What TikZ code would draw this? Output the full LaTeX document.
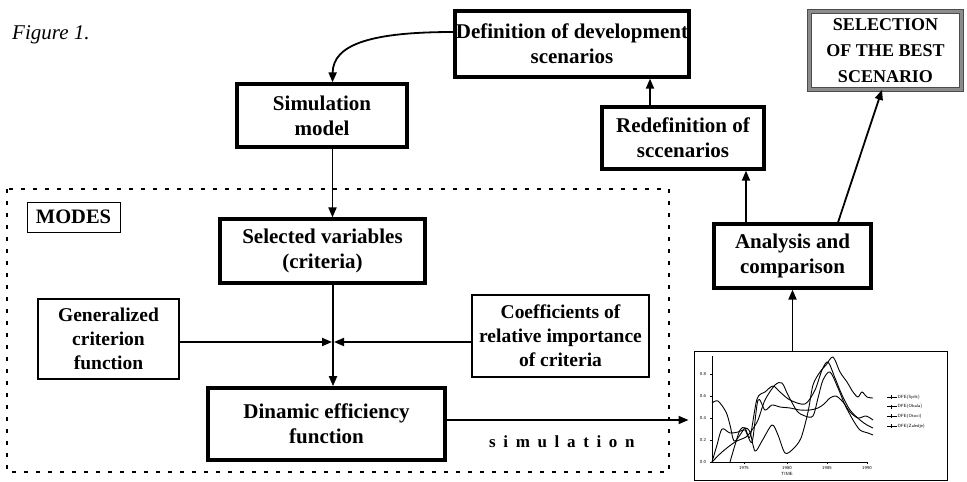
\documentclass[tikz,border=0pt]{standalone}
\usepackage{fontspec}
\setmainfont{Liberation Serif}
\usetikzlibrary{arrows.meta}
\begin{document}
\begin{tikzpicture}[x=1pt,y=-1pt,
  mainbox/.style={draw, line width=3.2pt, align=center, inner sep=0pt,
    font=\bfseries\fontsize{21}{25}\selectfont},
  smallbox/.style={draw, line width=1.6pt, align=center, inner sep=0pt,
    font=\bfseries\fontsize{19.5}{24}\selectfont},
  bestbox/.style={draw=black!70, line width=0.7pt, double=black!45, double distance=2.8pt,
    align=center, inner sep=0pt, font=\bfseries\fontsize{18}{26}\selectfont},
  conn/.style={line width=1.8pt, -{Triangle[length=10pt,width=8pt]}},
  wire/.style={line width=1.8pt},
  tiny/.style={font=\sffamily\fontsize{4.5}{5}\selectfont, inner sep=0.5pt},
  curve/.style={line width=0.9pt},
]
\useasboundingbox (0,0) rectangle (967,482);

% caption
\node[anchor=west, inner sep=0pt, font=\itshape\fontsize{21}{25}\selectfont] (fig) at (12,35) {Figure 1.};

% dashed frame of MODES
\draw[line width=2.8pt, dash pattern=on 4pt off 8pt] (7,189) rectangle (669,472);
\node[draw, line width=0.9pt, inner sep=0pt, minimum width=93pt, minimum height=30pt,
  font=\bfseries\fontsize{20.5}{24}\selectfont] (modes) at (73.5,217) {MODES};

% boxes
\node[mainbox, minimum width=234pt, minimum height=66pt] (def) at (572,44) {Definition of development\\scenarios};
\node[mainbox, minimum width=170pt, minimum height=63pt] (sim) at (322,115.5) {Simulation\\model};
\node[mainbox, minimum width=162pt, minimum height=62pt] (redef) at (683,138) {Redefinition of\\sccenarios};
\node[bestbox, minimum width=152pt, minimum height=78pt] (best) at (885.5,50.5) {SELECTION\\OF THE BEST\\SCENARIO};
\node[mainbox, minimum width=205pt, minimum height=64pt] (selvar) at (322.5,251) {Selected variables\\(criteria)};
\node[smallbox, minimum width=141pt, minimum height=80pt] (gen) at (108.5,339) {Generalized\\criterion\\function};
\node[smallbox, minimum width=177pt, minimum height=82pt] (coef) at (560.5,336) {Coefficients of\\relative importance\\of criteria};
\node[mainbox, line width=3.6pt, minimum width=237pt, minimum height=72pt] (dyn) at (326.5,424) {Dinamic efficiency\\function};
\node[mainbox, minimum width=157pt, minimum height=64pt] (anal) at (792.5,256) {Analysis and\\comparison};
\node[anchor=west, inner sep=0pt, font=\bfseries\fontsize{17}{20}\selectfont\addfontfeature{LetterSpace=45}] (simtxt) at (489,442) {simulation};

% chart
\node[draw, line width=1pt, minimum width=253pt, minimum height=129pt, inner sep=0pt] (chart) at (820.5,415.5) {};
\draw[line width=0.8pt] (712,356) -- (712,462) -- (867,462);
\foreach \v/\l in {0/0.0,1/0.2,2/0.4,3/0.6,4/0.8}{
  \draw[line width=0.5pt] (710,462-22*\v) -- (712,462-22*\v);
  \node[tiny] at (703,462-22*\v) {\l};
}
\foreach \yr/\xx in {1975/744,1980/787,1985/827,1990/867}{
  \draw[line width=0.5pt] (\xx,462) -- (\xx,464);
  \node[tiny] at (\xx,468) {\yr};
}
\node[tiny] at (787,474) {TIME};
\draw[curve] plot[smooth] coordinates {(712,403) (718,401) (726,412) (730,425) (734,441) (740,435) (745,428) (750,432) (755,451) (762,441) (772,425) (778,435) (785,453) (793,449) (801,438) (808,412) (813,385) (820,372) (826,365) (833,357) (840,372) (847,382) (853,392) (858,397) (862,392) (867,397) (873,398)};
\draw[curve] plot[smooth] coordinates {(712,462) (717,445) (722,429) (730,433) (738,432) (745,430) (750,437) (757,399) (765,392) (773,386) (780,392) (790,400) (805,404) (815,390) (822,370) (828,362) (835,378) (842,395) (850,410) (860,420) (867,425) (873,428)};
\draw[curve] plot[smooth] coordinates {(712,462) (722,452) (735,442) (746,437) (752,430) (758,420) (765,400) (775,385) (782,383) (788,395) (797,411) (805,416) (813,416) (818,398) (823,380) (830,372) (838,388) (845,405) (853,420) (860,430) (868,433) (873,435)};
\draw[curve] plot[smooth] coordinates {(730,462) (735,445) (740,430) (745,428) (752,442) (758,400) (765,410) (772,405) (780,407) (790,408) (800,410) (810,410) (818,408) (824,404) (830,398) (836,396) (843,402) (850,412) (858,418) (866,416) (873,420)};
\foreach \i/\name in {0/DFE(Split),1/DFE(Obala),2/DFE(Otoci),3/DFE(Zaledje)}{
  \draw[line width=0.5pt] (887,397+9.7*\i) -- (897,397+9.7*\i);
  \draw[line width=0.5pt] (891,395+9.7*\i) -- (891,399+9.7*\i);
  \node[tiny, anchor=west] at (897,397+9.7*\i) {\name};
}

% connectors
\coordinate (jn) at (333,342);
\draw[conn] ([yshift=12pt]def.west) .. controls (372,32) and (333,44) .. ([xshift=10.5pt]sim.north);
\draw[conn] ([xshift=10.5pt]sim.south) -- ([xshift=10.5pt]sim.south |- selvar.north);
\draw[wire] (selvar.south -| jn) -- (jn);
\draw[conn] (jn) -- (jn |- dyn.north);
\draw[conn] (gen.east |- jn) -- ([xshift=-1pt]jn);
\draw[conn] (coef.west |- jn) -- ([xshift=1pt]jn);
\draw[conn, shorten >=5pt] ([yshift=4pt]dyn.east) -- ([yshift=4pt]dyn.east -| chart.west);
\draw[conn] (anal.south |- chart.north) -- (anal.south);
\draw[conn] ([xshift=-46.5pt]anal.north) -- ([xshift=-46.5pt]anal.north |- redef.south);
\draw[conn] ([xshift=-33pt]redef.north) -- ([xshift=-33pt]redef.north |- def.south);
\draw[conn] ([xshift=45.5pt]anal.north) -- ([xshift=-3.5pt]best.south);
\end{tikzpicture}
\end{document}
